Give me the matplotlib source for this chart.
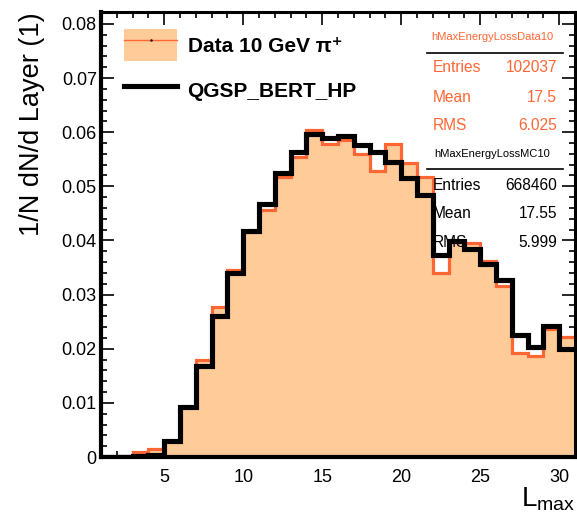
import numpy as np
import matplotlib
matplotlib.use("Agg")
import matplotlib.pyplot as plt
from matplotlib.patches import Patch
from matplotlib.lines import Line2D
from matplotlib.ticker import MultipleLocator, FuncFormatter

plt.rcParams["font.family"] = ["Liberation Sans", "DejaVu Sans"]

# layer bins 1..31 (30 bins), normalised entries per layer
layer_edges = np.arange(1, 32)
data_vals = [0.0, 0.0002, 0.0009, 0.0015, 0.0030, 0.0093, 0.0179, 0.0277, 0.0345, 0.0416,
             0.0456, 0.0518, 0.0554, 0.0604, 0.0578, 0.0585, 0.0560, 0.0529, 0.0579, 0.0543,
             0.0518, 0.0340, 0.0397, 0.0396, 0.0362, 0.0316, 0.0193, 0.0186, 0.0236, 0.0222]
mc_vals = [0.0, 0.0, 0.0002, 0.0004, 0.0030, 0.0092, 0.0169, 0.0260, 0.0339, 0.0418,
           0.0467, 0.0525, 0.0563, 0.0597, 0.0589, 0.0593, 0.0577, 0.0564, 0.0544, 0.0515,
           0.0484, 0.0373, 0.0399, 0.0384, 0.0356, 0.0327, 0.0226, 0.0203, 0.0242, 0.0200]

data_stats = [("Entries", "102037"), ("Mean", "17.5"), ("RMS", "6.025")]
mc_stats = [("Entries", "668460"), ("Mean", "17.55"), ("RMS", "5.999")]

fill_col = "#FFCC99"
line_col = "#FF6633"

W, H = 577, 517
fig = plt.figure(figsize=(W / 100, H / 100), dpi=100)
ax = fig.add_axes([101 / W, 1 - 457 / H, 474 / W, 445 / H])

ax.stairs(data_vals, layer_edges, fill=True, color=fill_col, zorder=2)
ax.stairs(data_vals, layer_edges, color=line_col, lw=2.3, baseline=None, zorder=3)
ax.stairs(mc_vals, layer_edges, color="black", lw=3.7, baseline=None, zorder=4)

ax.set_xlim(1, 31)
ax.set_ylim(0, 0.0822)

# ROOT-like ticks on all four sides, pointing inwards
ax.xaxis.set_major_locator(MultipleLocator(5))
ax.xaxis.set_minor_locator(MultipleLocator(1))
ax.yaxis.set_major_locator(MultipleLocator(0.01))
ax.yaxis.set_minor_locator(MultipleLocator(0.002))
ax.yaxis.set_major_formatter(FuncFormatter(lambda v, p: "0" if abs(v) < 1e-9 else "%.2f" % v))
ax.tick_params(which="both", direction="in", top=True, right=True, width=1.2)
ax.tick_params(which="major", length=9.5)
ax.tick_params(which="minor", length=4.5)
ax.tick_params(axis="x", which="major", labelsize=13, pad=9)
ax.tick_params(axis="y", which="major", labelsize=13, pad=3)
for side in ["left", "bottom"]:
    ax.spines[side].set_linewidth(3.0)
for side in ["top", "right"]:
    ax.spines[side].set_linewidth(2.2)
for s in ax.spines.values():
    s.set_zorder(6)

fig.text(32 / W, 1 - 12 / H, "1/N dN/d Layer (1)", rotation=90, ha="center", va="top", fontsize=19.5)
fig.text(575 / W, 1 - 513 / H, r"$\mathregular{L_{max}}$", ha="right", va="bottom", fontsize=20)

# legend
h_data = (Patch(facecolor=fill_col, edgecolor="none"),
          Line2D([], [], color=line_col, lw=1.0, marker=".", markersize=1.5, markerfacecolor="black",
                 markeredgecolor="black"))
h_mc = Line2D([], [], color="black", lw=3.7)
ax.legend([h_data, h_mc], ["Data 10 GeV π⁺", "QGSP_BERT_HP"],
          loc="upper left", bbox_to_anchor=(23 / 474, 1 - 17 / 445), frameon=False,
          borderpad=0, borderaxespad=0, handlelength=2.55, handleheight=2.0,
          handletextpad=0.5, labelspacing=0.65,
          prop={"weight": "bold", "size": 15})

# stats boxes
def stats_box(title, rows, color, y_title, y_line, y_rows):
    fig.text(492 / W, 1 - y_title / H, title, color=color, fontsize=8, ha="center", va="center")
    fig.add_artist(Line2D([427 / W, 563 / W], [1 - y_line / H, 1 - y_line / H], color="black", lw=1.2))
    for (name, val), yy in zip(rows, y_rows):
        fig.text(433 / W, 1 - yy / H, name, color=color, fontsize=11.2, ha="left", va="center", zorder=1)
        fig.text(557 / W, 1 - yy / H, val, color=color, fontsize=11.2, ha="right", va="center", zorder=1)

stats_box("hMaxEnergyLossData10", data_stats, line_col, 37, 53, [68, 98, 126])
stats_box("hMaxEnergyLossMC10", mc_stats, "black", 154, 169, [186, 214, 243])

plt.savefig("out.png", dpi=100)
